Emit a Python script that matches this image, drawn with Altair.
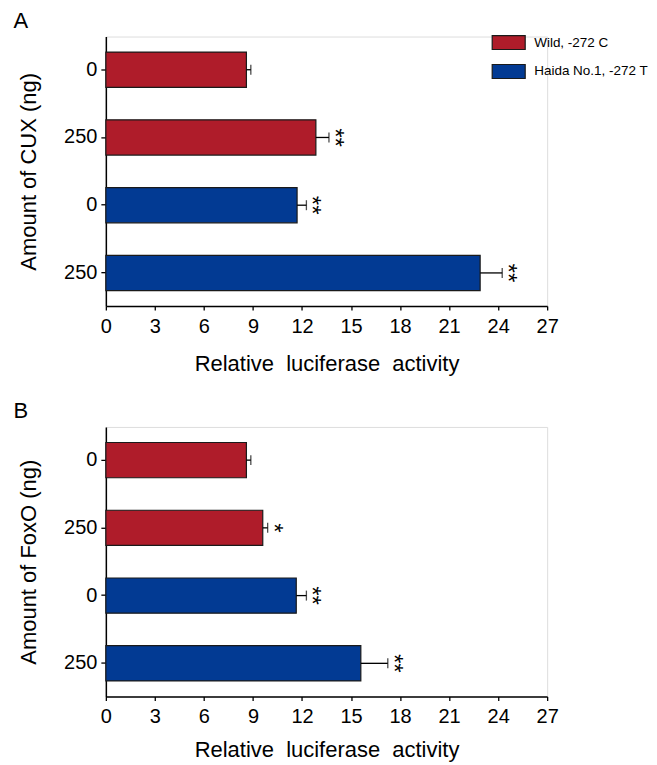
import altair as alt
import pandas as pd

# ---- data ----
amounts = ["0", "250", "0", "250"]
genotypes = ["Wild, -272 C", "Wild, -272 C", "Haida No.1, -272 T", "Haida No.1, -272 T"]
legend_labels = ["Wild, -272 C", "Haida No.1, -272 T"]
bar_colors = ["#AF1C2A", "#023A93"]

cux_values = [8.6, 12.85, 11.7, 22.9]
cux_errors = [0.27, 0.8, 0.57, 1.35]
cux_signif = ["", "**", "**", "**"]

foxo_values = [8.6, 9.6, 11.65, 15.6]
foxo_errors = [0.27, 0.3, 0.62, 1.65]
foxo_signif = ["", "*", "**", "**"]

x_ticks = [0, 3, 6, 9, 12, 15, 18, 21, 24, 27]

FONT = "Liberation Sans"
rows = [f"{g}|{a}|{i}" for i, (g, a) in enumerate(zip(genotypes, amounts))]


def panel(letter, factor, values, errors, signif, x_title_pad):
    df = pd.DataFrame({
        "row": rows,
        "genotype": genotypes,
        "value": values,
        "upper": [v + e for v, e in zip(values, errors)],
        "signif": signif,
    })
    base = alt.Chart(df)
    y = alt.Y(
        "row:N", sort=rows, title=f"Amount of {factor} (ng)",
        scale=alt.Scale(paddingInner=0.48, paddingOuter=0.23),
        axis=alt.Axis(labelExpr="split(datum.label, '|')[1]", labelFontSize=20,
                      titleFontSize=22, titleFontWeight="normal", tickSize=5,
                      labelPadding=4, titlePadding=23, domainColor="black",
                      tickColor="black", labelColor="black", titleColor="black",
                      domainWidth=1.5, tickWidth=1.3, labelFont=FONT, titleFont=FONT),
    )
    xscale = alt.Scale(domain=[0, 27], nice=False)
    bars = base.mark_bar(stroke="#1a1a1a", strokeWidth=1.2).encode(
        x=alt.X("value:Q", scale=xscale, title="Relative\u00a0 luciferase\u00a0 activity",
                axis=alt.Axis(values=x_ticks, grid=False, labelFontSize=20, titleFontSize=22,
                              titleFontWeight="normal", tickSize=4, labelPadding=6,
                              titlePadding=x_title_pad, domainColor="black", tickColor="black",
                              labelColor="black", titleColor="black", domainWidth=1.5,
                              tickWidth=1.3, labelFont=FONT, titleFont=FONT,
                              labelFlush=False)),
        y=y,
        color=alt.Color("genotype:N",
                        scale=alt.Scale(domain=legend_labels, range=bar_colors),
                        legend=alt.Legend(title=None, orient="none", legendX=405, legendY=-2,
                                          symbolType="M-3.72,-1L1,-1L1,1L-3.72,1Z",
                                          symbolSize=196, symbolStrokeColor="#1a1a1a",
                                          symbolStrokeWidth=1.2, labelFontSize=13.5,
                                          labelFont=FONT, labelColor="black",
                                          labelOffset=8, rowPadding=9)),
    )
    rule = base.mark_rule(color="black", strokeWidth=1.3).encode(
        x=alt.X("value:Q", scale=xscale), x2="upper:Q", y=y)
    cap = base.mark_tick(color="black", thickness=1.3, size=10).encode(
        x=alt.X("upper:Q", scale=xscale), y=y)
    stars = base.mark_text(angle=90, fontSize=24, baseline="middle", align="center",
                           dy=-5, font=FONT, color="black").encode(
        x=alt.X("upper:Q", scale=xscale), y=y, text="signif:N")
    return alt.layer(bars, rule, cap, stars).properties(
        width=442, height=270,
        title=alt.TitleParams(letter, anchor="start", fontSize=22, fontWeight="normal",
                              font=FONT, color="black", frame="bounds", dx=-4, offset=4),
    )


chart = alt.vconcat(
    panel("A", "CUX", cux_values, cux_errors, cux_signif, 17),
    panel("B", "FoxO", foxo_values, foxo_errors, foxo_signif, 13),
    spacing=24,
).properties(
    padding={"left": 5, "top": 0, "right": 0, "bottom": 0}
).configure_view(stroke=None).configure(background="white")

chart.save("out.html", embed_options={"renderer": "svg", "actions": False})
